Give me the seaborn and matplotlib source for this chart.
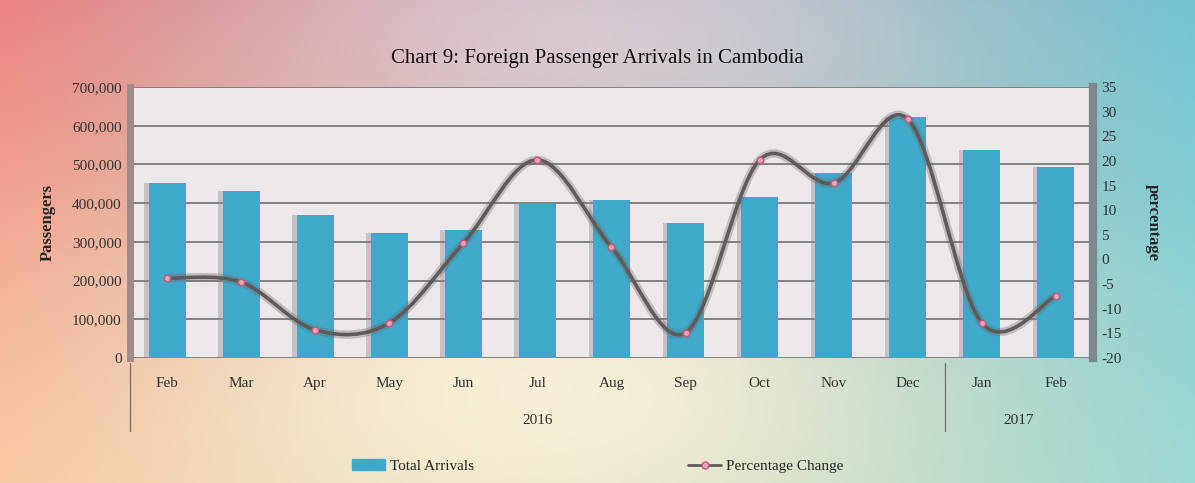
import numpy as np
import pandas as pd
import matplotlib.pyplot as plt
import seaborn as sns
from matplotlib.path import Path
from matplotlib.patches import PathPatch, Rectangle
from matplotlib.lines import Line2D

sns.set_style("white")
plt.rcParams["font.family"] = ["Liberation Serif", "DejaVu Serif"]

# ---------------------------------------------------------------------------
# data
# ---------------------------------------------------------------------------
months = ["Feb", "Mar", "Apr", "May", "Jun", "Jul", "Aug", "Sep", "Oct", "Nov", "Dec", "Jan", "Feb"]
years = ["2016"] * 11 + ["2017"] * 2
arrivals = [452000, 431000, 369000, 323000, 331000, 398000, 408000, 349000,
            416000, 478000, 623000, 537000, 494000]
pct_change = [-3.8, -4.6, -14.3, -12.9, 3.3, 20.2, 2.5, -14.9, 20.2, 15.5, 28.5, -12.9, -7.4]

df = pd.DataFrame({"pos": range(len(months)), "month": months, "year": years,
                   "arrivals": arrivals, "pct": pct_change})

BAR = "#3fa9c9"
LINE = "#5f5a5c"

fig = plt.figure(figsize=(11.95, 4.83), dpi=100)

# ---------------------------------------------------------------------------
# gradient background
# ---------------------------------------------------------------------------
bg = fig.add_axes([0, 0, 1, 1], zorder=-10)
h, w = 120, 300
yy, xx = np.mgrid[0:1:h * 1j, 0:1:w * 1j]
tl = np.array([236, 128, 130]) / 255
tr = np.array([110, 196, 208]) / 255
bl = np.array([250, 196, 150]) / 255
br = np.array([150, 216, 210]) / 255
img = ((1 - xx)[..., None] * (1 - yy)[..., None] * tl + xx[..., None] * (1 - yy)[..., None] * tr
       + (1 - xx)[..., None] * yy[..., None] * bl + xx[..., None] * yy[..., None] * br)
# pale glow in the middle / lower middle
glow = np.exp(-(((xx - 0.45) / 0.35) ** 2 + ((yy - 0.8) / 0.45) ** 2))
img = img * (1 - 0.85 * glow[..., None]) + np.array([255, 246, 222]) / 255 * 0.85 * glow[..., None]
glow2 = np.exp(-(((xx - 0.5) / 0.3) ** 2 + ((yy - 0.05) / 0.25) ** 2))
img = img * (1 - 0.6 * glow2[..., None]) + np.array([240, 224, 234]) / 255 * 0.6 * glow2[..., None]
bg.imshow(img, aspect="auto", extent=[0, 1, 0, 1], interpolation="bicubic")
bg.set_xlim(0, 1)
bg.set_ylim(0, 1)
bg.axis("off")

# ---------------------------------------------------------------------------
# main axes
# ---------------------------------------------------------------------------
ax = fig.add_axes([0.1088, 0.2588, 0.8058, 0.5611])
ax.set_facecolor("#ece8ea")

# bar shadows
for p, v in zip(df["pos"], df["arrivals"]):
    ax.add_patch(Rectangle((p - 0.31, 0), 0.5, v, color="#8c8a8e", alpha=0.4, lw=0, zorder=1))
sns.barplot(data=df, x="pos", y="arrivals", color=BAR, width=0.5, saturation=1,
            linewidth=0, ax=ax, zorder=2, native_scale=True)

ax.set_xlim(-0.5, len(months) - 0.5)
ax.set_ylim(0, 700000)
ax.set_yticks(range(0, 700001, 100000))
ax.set_yticklabels([f"{v:,}" for v in range(0, 700001, 100000)], fontsize=11, color="#333")
ax.grid(axis="y", color="#707070", lw=1.2)
ax.set_axisbelow(True)
ax.set_xticks(df["pos"])
ax.set_xticklabels([])
ax.tick_params(axis="both", length=0, pad=6)
ax.set_xlabel("")
ax.set_ylabel("Passengers", fontsize=12, fontweight="bold", labelpad=12)
for s in ["top", "bottom"]:
    ax.spines[s].set_visible(False)
ax.spines["left"].set_color("#a08a8a")
ax.spines["left"].set_linewidth(5)
ax.spines["right"].set_color("#7a8a8c")
ax.spines["right"].set_linewidth(6)

# ---------------------------------------------------------------------------
# percentage change on secondary axis (smoothed curve)
# ---------------------------------------------------------------------------
ax2 = ax.twinx()
ax2.set_ylim(-20, 35)
ax2.set_yticks(range(-20, 36, 5))
ax2.set_yticklabels([str(v) for v in range(-20, 36, 5)], fontsize=11, color="#333")
ax2.tick_params(axis="y", length=0, pad=6)
ax2.set_ylabel("percentage", fontsize=12, fontweight="bold", rotation=270, labelpad=28)
for s in ax2.spines.values():
    s.set_visible(False)

x = df["pos"].to_numpy(dtype=float)
y = df["pct"].to_numpy(dtype=float)
# Catmull-Rom style bezier segments through the data points
verts = [(x[0], y[0])]
codes = [Path.MOVETO]
n = len(x)
for i in range(n - 1):
    p0 = (x[i - 1], y[i - 1]) if i > 0 else (x[i], y[i])
    p1 = (x[i], y[i])
    p2 = (x[i + 1], y[i + 1])
    p3 = (x[i + 2], y[i + 2]) if i + 2 < n else p2
    c1 = (p1[0] + (p2[0] - p0[0]) / 6, p1[1] + (p2[1] - p0[1]) / 6)
    c2 = (p2[0] - (p3[0] - p1[0]) / 6, p2[1] - (p3[1] - p1[1]) / 6)
    verts += [c1, c2, p2]
    codes += [Path.CURVE4] * 3
path = Path(verts, codes)
ax2.add_patch(PathPatch(path, fill=False, ec="#6e6a6c", lw=6, alpha=0.35, zorder=3))
ax2.add_patch(PathPatch(path, fill=False, ec=LINE, lw=2.6, zorder=4))
sns.scatterplot(data=df, x="pos", y="pct", ax=ax2, s=22, color="#e7a2b8",
                edgecolor="#c05a7e", linewidth=1.1, zorder=5, legend=False)
ax2.set_xlabel("")
ax2.set_xlim(-0.5, len(months) - 0.5)

# ---------------------------------------------------------------------------
# two-level category axis
# ---------------------------------------------------------------------------
trans = ax.get_xaxis_transform()
for p, m in zip(df["pos"], df["month"]):
    ax.text(p, -0.095, m, transform=trans, ha="center", va="center", fontsize=11, color="#333")
for yr, grp in df.groupby("year"):
    ax.text(grp["pos"].mean(), -0.23, yr, transform=trans, ha="center", va="center",
            fontsize=11, color="#333")
for xs in [-0.5, 10.5]:
    ax.add_line(Line2D([xs, xs], [-0.02, -0.27], transform=trans, color="#777", lw=1,
                       clip_on=False))

# ---------------------------------------------------------------------------
# title and legend
# ---------------------------------------------------------------------------
fig.text(0.5, 0.878, "Chart 9: Foreign Passenger Arrivals in Cambodia", ha="center",
         va="center", fontsize=15, color="#111")
handles = [Rectangle((0, 0), 1, 1, color=BAR),
           Line2D([], [], color=LINE, lw=2, marker="o", markersize=5,
                  markerfacecolor="#e7a2b8", markeredgecolor="#c05a7e")]
fig.legend(handles, ["Total Arrivals", "Percentage Change"], loc="center",
           bbox_to_anchor=(0.5, 0.035), ncol=2, frameon=False, fontsize=11,
           columnspacing=14, handlelength=2.2, handletextpad=0.3)

fig.savefig("out.png", dpi=100)
